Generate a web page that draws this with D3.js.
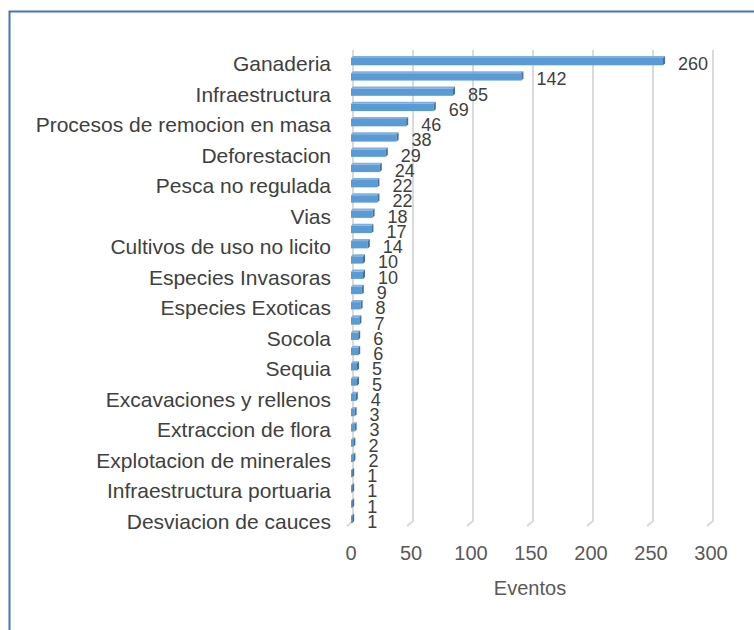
<!DOCTYPE html>
<html>
<head>
<meta charset="utf-8">
<script src="https://cdn.jsdelivr.net/npm/d3@7"></script>
<style>
  body { margin: 0; background: #fff; }
  svg { display: block; font-family: Arial, "Liberation Sans", sans-serif; }
</style>
</head>
<body>
<script>
// categories (only every other label is shown on the axis, hidden ones are null)
var categories = [
  "Ganaderia", null, "Infraestructura", null, "Procesos de remocion en masa", null,
  "Deforestacion", null, "Pesca no regulada", null, "Vias", null,
  "Cultivos de uso no licito", null, "Especies Invasoras", null, "Especies Exoticas", null,
  "Socola", null, "Sequia", null, "Excavaciones y rellenos", null,
  "Extraccion de flora", null, "Explotacion de minerales", null,
  "Infraestructura portuaria", null, "Desviacion de cauces"
];
var values = [260, 142, 85, 69, 46, 38, 29, 24, 22, 22, 18, 17, 14, 10, 10, 9, 8, 7, 6, 6,
  5, 5, 4, 3, 3, 2, 2, 1, 1, 1, 1];
var xTicks = [0, 50, 100, 150, 200, 250, 300];
var xTitle = "Eventos";

var width = 754, height = 630;
var textColor = "#404040";

var svg = d3.select("body").append("svg")
    .attr("width", width)
    .attr("height", height);

// outer frame (runs off the right and bottom edges)
svg.append("path")
    .attr("d", "M9.5," + (height + 5) + " L9.5,11.5 L" + (width + 5) + ",11.5")
    .attr("fill", "none")
    .attr("stroke", "#4472c4")
    .attr("stroke-width", 2);

var x = d3.scaleLinear().domain([0, 300]).range([351, 711]);
var y = d3.scaleBand()
    .domain(d3.range(values.length))
    .range([54, 527])
    .paddingInner(0.52)
    .paddingOuter(0.26);

// back wall gridlines with the 3d floor foot
var gridTop = 50, gridBottom = 521;
svg.append("g").selectAll("path")
    .data(xTicks)
  .enter().append("path")
    .attr("d", function(d) {
      var gx = x(d) + 2;
      return "M" + gx + "," + gridTop + " L" + gx + "," + gridBottom + " L" + (gx - 6) + "," + (gridBottom + 5);
    })
    .attr("fill", "none")
    .attr("stroke", "#dadada")
    .attr("stroke-width", 2);

// bars drawn as flat boxes: front, top and end faces
var dep = 2;
var bars = svg.append("g").selectAll("g")
    .data(values)
  .enter().append("g");

bars.append("path")
    .attr("d", function(d, i) {
      var x0 = x(0), x1 = x(d), y0 = y(i);
      return "M" + x0 + "," + y0 + " L" + (x0 + dep) + "," + (y0 - dep) + " L" + (x1 + dep) + "," + (y0 - dep) + " L" + x1 + "," + y0 + "Z";
    })
    .attr("fill", "#7fb0df");

bars.append("rect")
    .attr("x", x(0))
    .attr("y", function(d, i) { return y(i); })
    .attr("width", function(d) { return x(d) - x(0); })
    .attr("height", y.bandwidth())
    .attr("fill", "#5b9bd5");

bars.append("path")
    .attr("d", function(d, i) {
      var x1 = x(d), y0 = y(i), h = y.bandwidth();
      return "M" + x1 + "," + y0 + " L" + (x1 + dep) + "," + (y0 - dep) + " L" + (x1 + dep) + "," + (y0 + h - dep) + " L" + x1 + "," + (y0 + h) + "Z";
    })
    .attr("fill", "#3f72a3");

// value labels
bars.append("text")
    .attr("x", function(d) { return x(d) + 15; })
    .attr("y", function(d, i) { return y(i) + y.bandwidth() / 2 + 8.5; })
    .attr("font-size", 18)
    .attr("fill", textColor)
    .text(function(d) { return d; });

// category labels
svg.append("g").selectAll("text")
    .data(d3.range(categories.length).filter(function(i) { return categories[i]; }))
  .enter().append("text")
    .attr("x", 331)
    .attr("y", function(i) { return y(i) + y.bandwidth() / 2 + 9.5; })
    .attr("text-anchor", "end")
    .attr("font-size", 21)
    .attr("fill", textColor)
    .text(function(i) { return categories[i]; });

// x tick labels
svg.append("g").selectAll("text")
    .data(xTicks)
  .enter().append("text")
    .attr("x", function(d) { return x(d); })
    .attr("y", 560)
    .attr("text-anchor", "middle")
    .attr("font-size", 20)
    .attr("fill", "#595959")
    .text(function(d) { return d; });

svg.append("text")
    .attr("x", 530)
    .attr("y", 595)
    .attr("text-anchor", "middle")
    .attr("font-size", 20)
    .attr("fill", "#595959")
    .text(xTitle);
</script>
</body>
</html>
